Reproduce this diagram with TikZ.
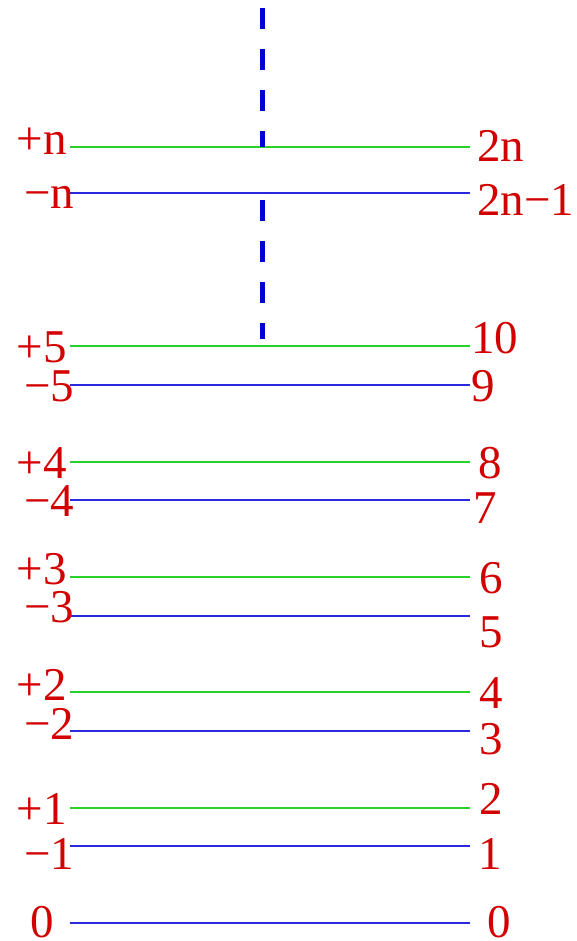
\documentclass[tikz,border=0pt]{standalone}
\usepackage{fontspec}
\setmainfont{Liberation Serif}
\definecolor{lblred}{RGB}{210,0,0}
\definecolor{lvlgreen}{RGB}{40,210,40}
\definecolor{lvlblue}{RGB}{40,40,220}
\definecolor{dashblue}{RGB}{0,0,210}
\begin{document}
\begin{tikzpicture}[x=1pt,y=-1pt,
  lbl/.style={anchor=base west, inner sep=0pt, text=lblred, font=\fontsize{47}{50}\selectfont},
  glev/.style={draw=lvlgreen, line width=1.3pt},
  blev/.style={draw=lvlblue, line width=1.3pt},
  dashv/.style={draw=dashblue, line width=5pt, dash pattern=on 21pt off 20pt}]
\useasboundingbox (0,0) rectangle (577,941);
% level lines
\foreach \nm/\yy/\st in {pn/147/glev, mn/193/blev, p5/346/glev, m5/385/blev,
  p4/462/glev, m4/500/blev, p3/577/glev, m3/616/blev, p2/692/glev, m2/731/blev,
  p1/808/glev, m1/846/blev, z0/923/blev}{
  \coordinate (\nm L) at (70,\yy);
  \coordinate (\nm R) at (470,\yy);
  \draw[\st] (\nm L) -- (\nm R);
}
% dashed vertical
\coordinate (da) at (262,8);
\coordinate (db) at (262,147);
\coordinate (dc) at (262,200);
\coordinate (dd) at (262,339);
\draw[dashv] (da) -- (db);
\draw[dashv] (dc) -- (dd);
% left labels
\node[lbl] (lpn) at (16.5,155) {+n};
\node[lbl] (lmn) at (24,208) {−n};
\node[lbl] (lp5) at (16.5,362) {+5};
\node[lbl] (lm5) at (24,401) {−5};
\node[lbl] (lp4) at (16.5,478) {+4};
\node[lbl] (lm4) at (24,516) {−4};
\node[lbl] (lp3) at (16.5,584) {+3};
\node[lbl] (lm3) at (24,622) {−3};
\node[lbl] (lp2) at (16.5,700) {+2};
\node[lbl] (lm2) at (24,739) {−2};
\node[lbl] (lp1) at (16.5,824) {+1};
\node[lbl] (lm1) at (24,869) {−1};
\node[lbl] (lz0) at (30,937.5) {0};
% right labels
\node[lbl] (rpn) at (477,162) {2n};
\node[lbl] (rmn) at (477,215) {2n−1};
\node[lbl] (rp5) at (471,353) {10};
\node[lbl] (rm5) at (471.5,401) {9};
\node[lbl] (rp4) at (478.5,478) {8};
\node[lbl] (rm4) at (473,523) {7};
\node[lbl] (rp3) at (479.5,593) {6};
\node[lbl] (rm3) at (479.5,647) {5};
\node[lbl] (rp2) at (479.5,708) {4};
\node[lbl] (rm2) at (479,754) {3};
\node[lbl] (rp1) at (479.5,814) {2};
\node[lbl] (rm1) at (478,869) {1};
\node[lbl] (rz0) at (487,937.5) {0};
\end{tikzpicture}
\end{document}
